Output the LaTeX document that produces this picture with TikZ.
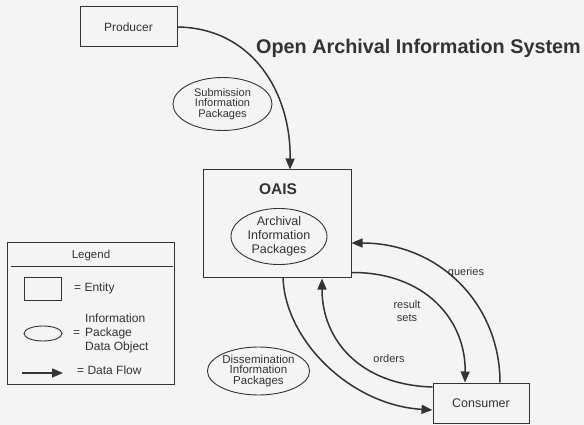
\documentclass[tikz,border=0pt]{standalone}
\usepackage{fontspec}
\setmainfont{Liberation Sans}
\usetikzlibrary{shapes.geometric,arrows.meta}
\definecolor{ink}{HTML}{333333}
\definecolor{paper}{HTML}{F4F4F4}
\begin{document}
\begin{tikzpicture}[x=1pt,y=-1pt,
  every node/.style={text=ink},
  entity/.style={draw=ink,line width=1pt,rectangle,inner sep=0pt},
  package/.style={draw=ink,line width=0.9pt,ellipse,inner sep=0pt,align=center,
    font=\fontsize{11}{10.5}\selectfont},
  flow/.style={draw=ink,line width=1.5pt,-{Triangle[length=11pt,width=9pt]}},
  lbl/.style={font=\fontsize{11}{13}\selectfont,align=center,inner sep=0pt},
  keytext/.style={lbl,anchor=west,font=\fontsize{12}{12}\selectfont}]
% canvas
\useasboundingbox (0,0) rectangle (584,425);
\fill[paper] (0,0) rectangle (584,425);

% title
\node[font=\bfseries\fontsize{19.8}{20}\selectfont,anchor=west,inner sep=0pt] (title) at (256,48) {Open Archival Information System};

% entities
\node[entity,minimum width=97pt,minimum height=40pt,font=\fontsize{12}{12}\selectfont] (producer) at (128.5,27) {Producer};
\node[entity,minimum width=148pt,minimum height=107pt] (oais) at (277,223.5) {};
\node[font=\bfseries\fontsize{15.5}{15.5}\selectfont,inner sep=0pt] (oaislbl) at (278,189) {OAIS};
\node[entity,minimum width=96pt,minimum height=40pt,font=\fontsize{12.5}{12.5}\selectfont] (consumer) at (481,403) {Consumer};

% information packages
\node[package,minimum width=99pt,minimum height=53pt] (sip) at (222.5,104) {Submission\\Information\\Packages};
\node[package,minimum width=96pt,minimum height=56pt,font=\fontsize{12.5}{14}\selectfont] (aip) at (279,236.5) {Archival\\Information\\Packages};
\node[package,minimum width=99pt,minimum height=48pt,font=\fontsize{11.5}{10.5}\selectfont] (dip) at (258.5,371) {Dissemination\\Information\\Packages};

% data flows
\draw[flow] (producer.east) .. controls (252,28) and (291,92) .. ([xshift=13pt]oais.north);
\draw[flow] ([xshift=19pt]consumer.north) .. controls (500,305) and (440,243) .. ([yshift=-19.5pt]oais.east);
\draw[flow] ([yshift=-49pt]oais.east) .. controls (425,272) and (466,320) .. ([xshift=-16pt]consumer.north);
\draw[flow] ([yshift=16pt]consumer.west) .. controls (360,385) and (322,340) .. ([xshift=45pt,yshift=-1pt]oais.south);
\draw[flow] ([xshift=6pt]oais.south) .. controls (285,340) and (350,405) .. ([yshift=-7pt]consumer.west);

% flow labels
\node[lbl] (queries) at (466,273) {queries};
\node[lbl] (results) at (407,311) {result\\sets};
\node[lbl] (orders) at (389,359) {orders};

% legend
\node[draw=ink,line width=1pt,rectangle,minimum width=167pt,minimum height=142pt,inner sep=0pt] (legend) at (90.5,313) {};
\node[lbl,font=\fontsize{11.5}{11.5}\selectfont] (legendtitle) at (91,255.5) {Legend};
\draw[ink,line width=1.6pt] ([xshift=4pt,yshift=-25pt]legend.north west) -- ([xshift=-2pt,yshift=-25pt]legend.north east);
\node[entity,minimum width=37pt,minimum height=23pt] (keybox) at (42.5,288.5) {};
\node[keytext] (keyboxtxt) at (74,288) {= Entity};
\node[draw=ink,line width=0.9pt,ellipse,minimum width=38pt,minimum height=15pt,inner sep=0pt] (keyell) at (43,333.5) {};
\node[keytext] (keyelleq) at (73,334) {=};
\node[keytext,align=left,font=\fontsize{12}{14}\selectfont] (keyelltxt) at (85,333) {Information\\Package\\Data Object};
\coordinate (keyfrom) at (22,373);
\coordinate (keyto) at (63,373);
\draw[flow] (keyfrom) -- (keyto);
\node[keytext] (keyflowtxt) at (77,370) {= Data Flow};
\end{tikzpicture}
\end{document}
